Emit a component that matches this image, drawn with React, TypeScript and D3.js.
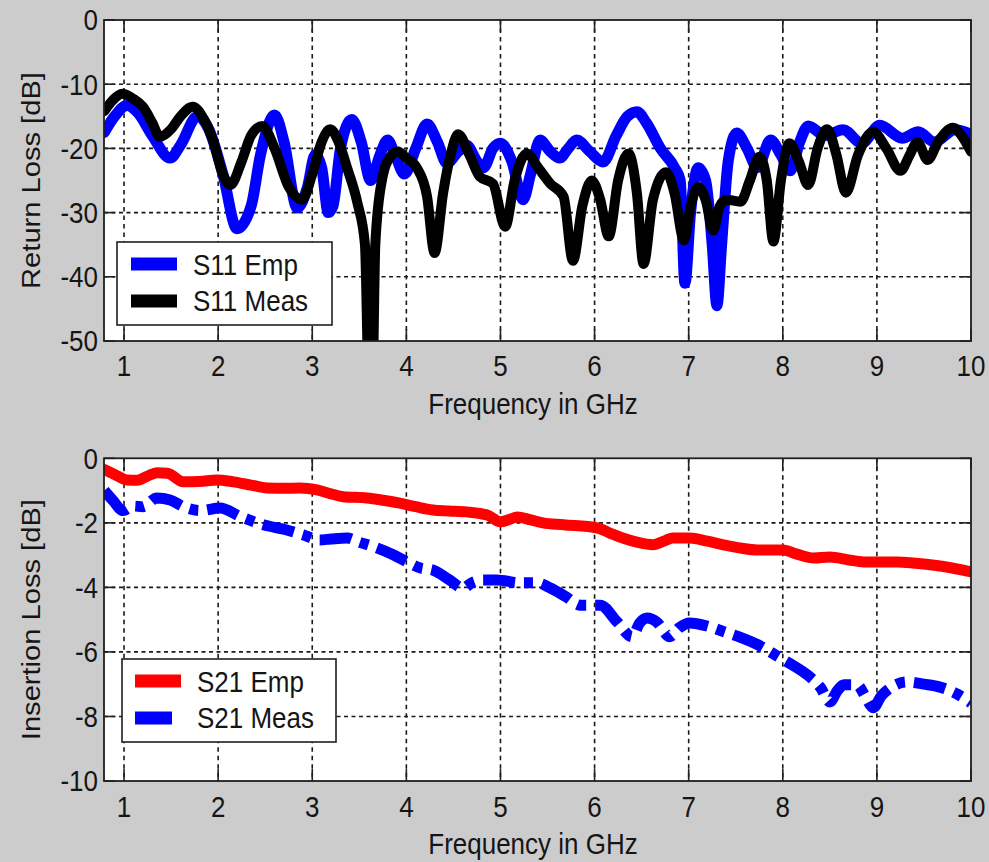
import React from 'react';
import * as d3 from 'd3';

// ---------- data ----------
const xTicks = [1, 2, 3, 4, 5, 6, 7, 8, 9, 10];
const returnLossTicks = [0, -10, -20, -30, -40, -50];
const insertionLossTicks = [0, -2, -4, -6, -8, -10];

const s11EmpFreq = [0.79, 0.9, 1.03, 1.15, 1.3, 1.49, 1.6, 1.78, 1.9, 2.05, 2.2, 2.35, 2.45, 2.6, 2.7, 2.84, 2.95, 3.03, 3.1, 3.17, 3.22, 3.3, 3.42, 3.52, 3.62, 3.72, 3.8, 3.88, 3.98, 4.1, 4.22, 4.33, 4.43, 4.55, 4.64, 4.75, 4.82, 4.92, 5.0, 5.12, 5.24, 5.32, 5.42, 5.53, 5.63, 5.72, 5.81, 5.95, 6.09, 6.23, 6.35, 6.45, 6.55, 6.7, 6.85, 6.91, 6.96, 7.02, 7.1, 7.18, 7.25, 7.3, 7.35, 7.42, 7.51, 7.62, 7.73, 7.87, 7.98, 8.08, 8.18, 8.27, 8.45, 8.64, 8.84, 9.03, 9.27, 9.44, 9.61, 9.83, 10.0];
const s11EmpDb = [-17.5, -15, -13.3, -14.5, -18, -21.5, -19.5, -15, -17, -24, -32.5, -29, -21, -14.8, -19, -29.3, -26, -21, -23, -30, -29, -20, -15.5, -19, -25, -21, -18.7, -21, -24, -20, -16.2, -19, -22.3, -20.5, -19.5, -22, -23, -20, -19.2, -22, -28, -24, -18.7, -20.5, -21.5, -20, -18.7, -20.5, -22.1, -18, -15, -14.3, -16, -20, -23, -25, -41, -30, -23, -25, -35, -44.5, -35, -22, -17.6, -20, -23, -18.7, -21, -23.5, -19, -16.5, -18, -17.1, -19.2, -16.4, -18.4, -17.4, -19, -17.1, -17.8];

const s11MeasFreq = [0.79, 0.88, 0.98, 1.1, 1.2, 1.3, 1.38, 1.5, 1.6, 1.73, 1.85, 1.95, 2.05, 2.13, 2.25, 2.35, 2.47, 2.6, 2.75, 2.89, 3.0, 3.1, 3.19, 3.28, 3.37, 3.48, 3.56, 3.6, 3.64, 3.67, 3.74, 3.83, 3.91, 4.0, 4.11, 4.22, 4.3, 4.39, 4.47, 4.55, 4.67, 4.78, 4.92, 5.05, 5.15, 5.28, 5.4, 5.53, 5.67, 5.77, 5.87, 5.97, 6.06, 6.15, 6.25, 6.36, 6.45, 6.52, 6.62, 6.76, 6.85, 6.95, 7.02, 7.1, 7.18, 7.26, 7.33, 7.4, 7.55, 7.65, 7.75, 7.83, 7.9, 7.98, 8.07, 8.17, 8.27, 8.37, 8.47, 8.57, 8.67, 8.8, 8.96, 9.1, 9.25, 9.35, 9.43, 9.54, 9.65, 9.81, 9.9, 10.0];
const s11MeasDb = [-14.2, -12.5, -11.5, -12.3, -13.5, -16, -18.2, -17, -15, -13.5, -15.5, -19, -24, -25.7, -22, -18, -16.5, -20, -26, -28, -24, -19, -17, -19, -23, -28.5, -35, -56, -56, -35, -25, -21.3, -20.5, -21.5, -23, -27.5, -36.3, -27, -21, -17.8, -21, -24.4, -25.5, -32.2, -25, -20.8, -23, -25.5, -27.5, -37.5, -29, -25, -28, -33.7, -25, -20.8, -27, -38, -28, -23.7, -27, -34.3, -29, -26, -28, -32.8, -29, -28, -28.3, -25, -21.3, -25, -34.5, -25, -19.2, -22, -25.7, -20, -17, -21, -26.9, -21, -17.4, -20, -23.5, -21, -19, -21.8, -19, -16.8, -18, -20.5];

const s21EmpFreq = [0.79, 0.9, 1.03, 1.14, 1.25, 1.35, 1.46, 1.63, 1.8, 1.99, 2.16, 2.35, 2.52, 2.7, 2.87, 3.05, 3.2, 3.33, 3.58, 3.75, 3.93, 4.1, 4.28, 4.45, 4.64, 4.86, 5.0, 5.09, 5.18, 5.31, 5.45, 5.67, 6.03, 6.15, 6.3, 6.45, 6.62, 6.75, 6.83, 7.01, 7.2, 7.37, 7.55, 7.73, 8.0, 8.15, 8.33, 8.5, 8.7, 8.86, 9.21, 9.57, 9.8, 10.0];
const s21EmpDb = [-0.35, -0.5, -0.67, -0.68, -0.55, -0.45, -0.46, -0.73, -0.72, -0.67, -0.73, -0.83, -0.92, -0.93, -0.92, -0.98, -1.1, -1.19, -1.23, -1.3, -1.39, -1.5, -1.6, -1.63, -1.66, -1.76, -1.97, -1.9, -1.82, -1.9, -2.0, -2.06, -2.16, -2.3, -2.47, -2.6, -2.68, -2.55, -2.47, -2.47, -2.57, -2.68, -2.78, -2.84, -2.84, -2.97, -3.09, -3.06, -3.15, -3.21, -3.21, -3.3, -3.4, -3.52];

const s21MeasFreq = [0.79, 0.88, 0.99, 1.1, 1.2, 1.35, 1.49, 1.63, 1.81, 2.02, 2.23, 2.48, 2.73, 2.9, 3.08, 3.2, 3.37, 3.5, 3.65, 3.86, 4.0, 4.15, 4.28, 4.46, 4.6, 4.7, 4.82, 4.96, 5.21, 5.39, 5.53, 5.7, 5.85, 6.06, 6.24, 6.4, 6.48, 6.56, 6.66, 6.8, 6.9, 7.01, 7.2, 7.37, 7.55, 7.73, 7.97, 8.1, 8.26, 8.4, 8.5, 8.58, 8.65, 8.79, 8.88, 8.96, 9.05, 9.14, 9.32, 9.5, 9.67, 9.85, 10.0];
const s21MeasDb = [-1.0, -1.3, -1.62, -1.48, -1.5, -1.23, -1.29, -1.5, -1.62, -1.54, -1.8, -2.06, -2.22, -2.37, -2.53, -2.5, -2.47, -2.6, -2.74, -2.99, -3.2, -3.4, -3.46, -3.77, -4.02, -3.85, -3.77, -3.77, -3.86, -3.86, -4.02, -4.3, -4.55, -4.55, -5.07, -5.53, -5.1, -4.95, -5.07, -5.53, -5.25, -5.1, -5.2, -5.37, -5.55, -5.77, -6.18, -6.4, -6.71, -7.1, -7.55, -7.2, -7.02, -7.02, -7.4, -7.73, -7.35, -7.12, -6.93, -7.0, -7.09, -7.3, -7.58];

// ---------- layout ----------
const W = 989;
const H = 862;
const LEFT = 104;
const RIGHT = 971;
const X_MIN = 0.787;
const X_MAX = 10;
const SY = 1.12; // vertical stretch of text
const FONT = '"Liberation Sans", Arial, Helvetica, sans-serif';
const FS = 26;
const TEXT_COLOR = '#151515';

type Series = { freq: number[]; db: number[]; color: string; width: number; dash?: string };
type LegendItem = { label: string; color: string; dash?: string };

function StretchText(props: { x: number; y: number; anchor?: string; children: React.ReactNode; rotate?: boolean }) {
  const { x, y, anchor = 'start', children, rotate } = props;
  const tr = rotate
    ? `translate(${x},${y}) rotate(-90) scale(${SY},1)`
    : `translate(${x},${y}) scale(1,${SY})`;
  return (
    <text transform={tr} textAnchor={anchor as any} fontFamily={FONT} fontSize={FS} fill={TEXT_COLOR}>
      {children}
    </text>
  );
}

function Panel(props: {
  id: string;
  top: number;
  bottom: number;
  yMin: number;
  yTicks: number[];
  yLabel: string;
  series: Series[];
  legend: { x0: number; x1: number; y0: number; y1: number; sampleX0: number; sampleX1: number; textX: number; rows: number[]; baselines: number[]; items: LegendItem[] };
  tickBaseline: number;
  xLabelBaseline: number;
}) {
  const { id, top, bottom, yMin, yTicks, yLabel, series, legend, tickBaseline, xLabelBaseline } = props;
  const x = d3.scaleLinear().domain([X_MIN, X_MAX]).range([LEFT, RIGHT]);
  const y = d3.scaleLinear().domain([yMin, 0]).range([bottom, top]);
  const tickLen = 11;

  return (
    <g>
      <defs>
        <clipPath id={id}>
          <rect x={LEFT} y={top} width={RIGHT - LEFT} height={bottom - top} />
        </clipPath>
      </defs>
      <rect x={LEFT} y={top} width={RIGHT - LEFT} height={bottom - top} fill="#ffffff" />
      {/* grid */}
      {xTicks.filter((t) => t < X_MAX).map((t) => (
        <line key={'gx' + t} x1={x(t)} x2={x(t)} y1={top} y2={bottom} stroke="#1a1a1a" strokeWidth={1.6} strokeDasharray="4.5,4" />
      ))}
      {yTicks.filter((t) => t < 0 && t > yMin).map((t) => (
        <line key={'gy' + t} x1={LEFT} x2={RIGHT} y1={y(t)} y2={y(t)} stroke="#1a1a1a" strokeWidth={1.6} strokeDasharray="4,3.5" />
      ))}
      {/* ticks */}
      {xTicks.map((t) => (
        <g key={'tx' + t}>
          <line x1={x(t)} x2={x(t)} y1={bottom} y2={bottom - tickLen - 1} stroke="#222" strokeWidth={1.6} />
          <line x1={x(t)} x2={x(t)} y1={top} y2={top + tickLen + 1} stroke="#222" strokeWidth={1.6} />
        </g>
      ))}
      {yTicks.map((t) => (
        <g key={'ty' + t}>
          <line x1={LEFT} x2={LEFT + tickLen} y1={y(t)} y2={y(t)} stroke="#222" strokeWidth={1.6} />
          <line x1={RIGHT} x2={RIGHT - tickLen} y1={y(t)} y2={y(t)} stroke="#222" strokeWidth={1.6} />
        </g>
      ))}
      {/* data */}
      <g clipPath={`url(#${id})`}>
        {series.map((s, i) => {
          const gen = d3
            .line<number>()
            .x((_, k) => x(s.freq[k]))
            .y((d) => y(d))
            .curve(d3.curveMonotoneX);
          return (
            <path
              key={i}
              d={gen(s.db) || ''}
              fill="none"
              stroke={s.color}
              strokeWidth={s.width}
              strokeDasharray={s.dash}
              strokeLinejoin="round"
              strokeLinecap={s.dash ? 'butt' : 'round'}
            />
          );
        })}
      </g>
      {/* axes box */}
      <rect x={LEFT} y={top} width={RIGHT - LEFT} height={bottom - top} fill="none" stroke="#1e1e1e" strokeWidth={1.8} />
      {/* tick labels */}
      {xTicks.map((t) => (
        <StretchText key={'lx' + t} x={x(t)} y={tickBaseline} anchor="middle">
          {String(t)}
        </StretchText>
      ))}
      {yTicks.map((t) => (
        <StretchText key={'ly' + t} x={98} y={y(t) + 10.4} anchor="end">
          {String(t)}
        </StretchText>
      ))}
      {/* axis labels */}
      <StretchText x={533} y={xLabelBaseline} anchor="middle">
        Frequency in GHz
      </StretchText>
      <StretchText x={40} y={(top + bottom) / 2} anchor="middle" rotate>
        {yLabel}
      </StretchText>
      {/* legend */}
      <rect x={legend.x0} y={legend.y0} width={legend.x1 - legend.x0} height={legend.y1 - legend.y0} fill="#ffffff" stroke="#1e1e1e" strokeWidth={1.6} />
      {legend.items.map((it, i) => (
        <g key={'lg' + i}>
          <line
            x1={legend.sampleX0}
            x2={legend.sampleX1}
            y1={legend.rows[i]}
            y2={legend.rows[i]}
            stroke={it.color}
            strokeWidth={13}
            strokeDasharray={it.dash}
          />
          <StretchText x={legend.textX} y={legend.baselines[i]}>
            {it.label}
          </StretchText>
        </g>
      ))}
    </g>
  );
}

export default function App() {
  const s21Dash = '32,9,9,9';
  return (
    <svg
      width={W}
      height={H}
      viewBox={`0 0 ${W} ${H}`}
      style={{ position: 'absolute', left: 0, top: 0, display: 'block' }}
    >
      <rect x={0} y={0} width={W} height={H} fill="#cccccc" />
      <Panel
        id="clipTop"
        top={20}
        bottom={341}
        yMin={-50}
        yTicks={returnLossTicks}
        yLabel="Return Loss [dB]"
        series={[
          { freq: s11EmpFreq, db: s11EmpDb, color: '#0000ff', width: 11 },
          { freq: s11MeasFreq, db: s11MeasDb, color: '#000000', width: 10 },
        ]}
        legend={{
          x0: 117,
          x1: 332,
          y0: 242,
          y1: 325,
          sampleX0: 131,
          sampleX1: 177,
          textX: 193,
          rows: [264, 301],
          baselines: [275, 311],
          items: [
            { label: 'S11 Emp', color: '#0000ff' },
            { label: 'S11 Meas', color: '#000000' },
          ],
        }}
        tickBaseline={376}
        xLabelBaseline={414}
      />
      <Panel
        id="clipBot"
        top={458.3}
        bottom={781}
        yMin={-10}
        yTicks={insertionLossTicks}
        yLabel="Insertion Loss [dB]"
        series={[
          { freq: s21EmpFreq, db: s21EmpDb, color: '#ff0000', width: 11 },
          { freq: s21MeasFreq, db: s21MeasDb, color: '#0000ff', width: 11, dash: s21Dash },
        ]}
        legend={{
          x0: 122,
          x1: 336,
          y0: 659,
          y1: 742,
          sampleX0: 135,
          sampleX1: 181,
          textX: 197,
          rows: [681, 718],
          baselines: [692, 728],
          items: [
            { label: 'S21 Emp', color: '#ff0000' },
            { label: 'S21 Meas', color: '#0000ff', dash: '37,20' },
          ],
        }}
        tickBaseline={817}
        xLabelBaseline={854}
      />
    </svg>
  );
}
